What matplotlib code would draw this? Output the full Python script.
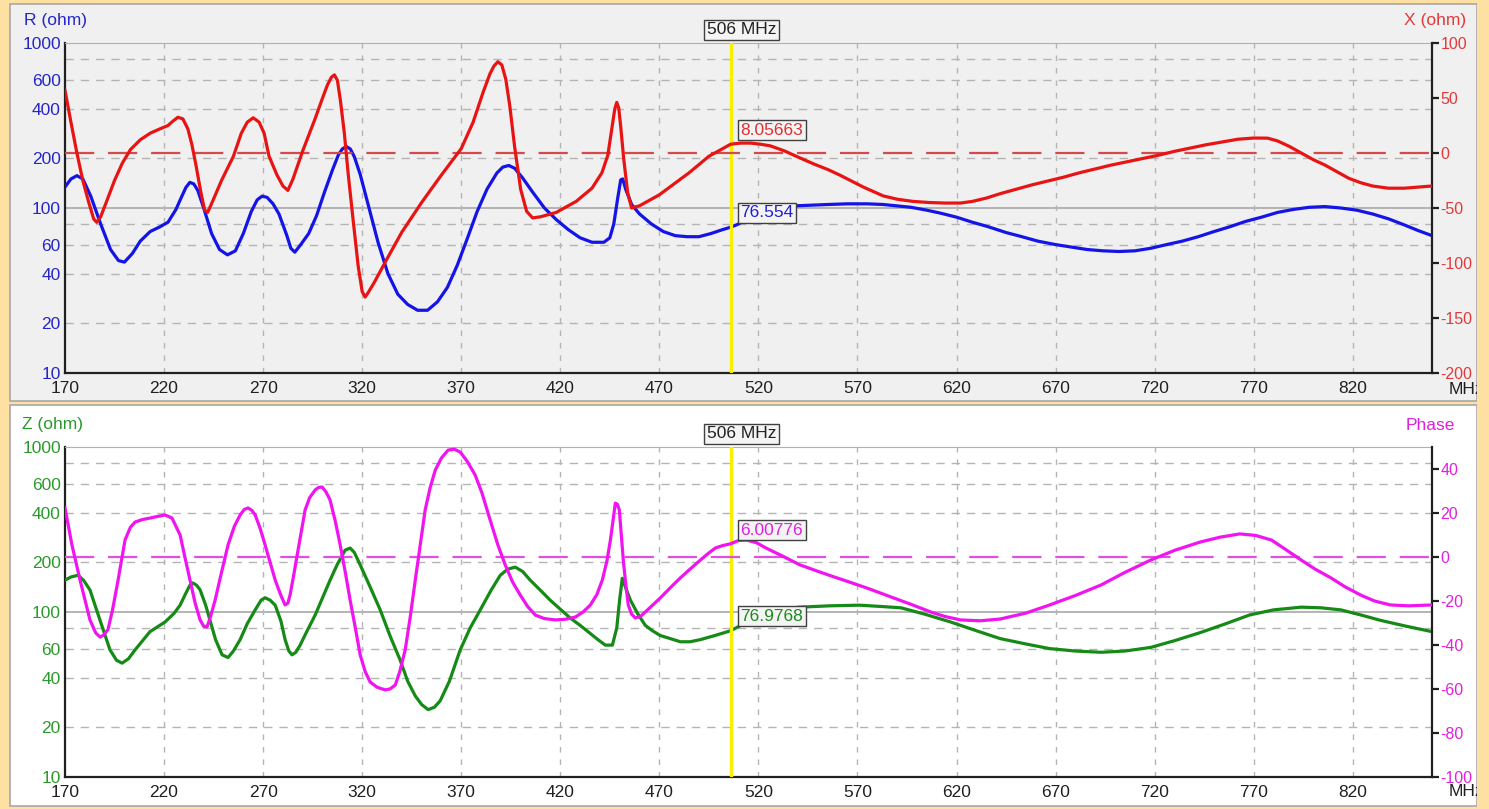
import matplotlib
matplotlib.use("Agg")
import matplotlib.pyplot as plt
from matplotlib.patches import Rectangle
from matplotlib.ticker import FixedLocator, NullLocator

plt.rcParams['font.family'] = ['Liberation Sans', 'DejaVu Sans']
plt.rcParams['lines.scale_dashes'] = False
plt.rcParams['axes.unicode_minus'] = False

# ---- data ----
cursor_mhz = 506
cursor_r, cursor_x = 76.554, 8.05663
cursor_z, cursor_phase = 76.9768, 6.00776

freq_ticks = [170, 220, 270, 320, 370, 420, 470, 520, 570, 620, 670, 720, 770, 820]
ohm_ticks = [10, 20, 40, 60, 100, 200, 400, 600, 1000]
ohm_grid = [20, 40, 60, 80, 200, 400, 600, 800]
x_ticks = [-200, -150, -100, -50, 0, 50, 100]
phase_ticks = [-100, -80, -60, -40, -20, 0, 20, 40]

# (MHz, R ohm), top panel
r_points = [
    (170, 134), (173, 150), (176, 157), (179, 150), (183, 118), (188, 80), (193, 56),
    (197, 48), (200, 47), (204, 53), (208, 63), (213, 72), (218, 77), (222, 82), (226, 98),
    (229, 118), (231, 133), (233, 143), (235, 140), (237, 128), (240, 100), (244, 70),
    (248, 56), (252, 52), (256, 55), (260, 70), (264, 95), (267, 112), (269.5, 118),
    (272, 116), (275, 106), (278, 92), (282, 68), (284, 57), (286, 54), (289, 60), (293, 70),
    (297, 90), (301, 125), (305, 170), (308, 210), (310, 228), (312, 236), (314, 228),
    (316, 205), (319, 160), (323, 105), (328, 62), (333, 40), (338, 30), (343, 26), (348, 24),
    (353, 24), (358, 27), (363, 33), (368, 45), (373, 65), (378, 95), (383, 130), (388, 163),
    (391, 177), (394, 181), (397, 174), (401, 152), (406, 125), (412, 100), (418, 85),
    (424, 74), (430, 66), (436, 62), (442, 62), (445, 66), (447, 80), (449, 115), (450.5, 148),
    (451.5, 150), (453, 130), (456, 105), (460, 92), (466, 80), (472, 72), (478, 68),
    (484, 67), (490, 67), (496, 70), (502, 74), (506, 76.5), (510, 80), (515, 88), (520, 95),
    (525, 99), (530, 101), (538, 103), (546, 104), (555, 105), (565, 106), (575, 106),
    (583, 105), (590, 103), (597, 101), (605, 97), (612, 93), (620, 88), (628, 82), (636, 77),
    (645, 71), (653, 67), (661, 63), (670, 60), (678, 58), (686, 56), (694, 55), (702, 54.5),
    (710, 55), (718, 57), (726, 60), (734, 63), (742, 67), (750, 72), (758, 77), (766, 83),
    (774, 88), (782, 94), (790, 98), (798, 101), (806, 102), (814, 100), (822, 97), (830, 92),
    (838, 86), (846, 79), (853, 73), (860, 68),
]

# (MHz, X ohm), top panel
x_points = [
    (170, 57), (173, 28), (176, 0), (179, -25), (182, -45), (184.5, -60), (186, -63),
    (188, -58), (191, -44), (195, -25), (199, -9), (203, 3), (208, 12), (213, 18), (218, 22),
    (222, 25), (224.5, 29), (227, 32.5), (229.5, 31), (232, 22), (234, 8), (236, -10),
    (238.5, -35), (240.5, -52), (242, -54), (244, -46), (249, -25), (255, -3), (259, 18),
    (262, 28), (265, 32), (268, 28), (270.5, 18), (273, -3), (277, -20), (280, -30),
    (282.5, -34), (285, -24), (290, 2), (296, 30), (300, 50), (302.5, 62), (304.5, 69),
    (306, 71), (307.5, 66), (309, 48), (311, 18), (313, -20), (315.5, -62), (318, -103),
    (320, -126), (321.5, -131), (323, -127), (326, -118), (332, -98), (340, -72), (350, -45),
    (360, -20), (370, 4), (376, 28), (381, 55), (384.5, 72), (386.5, 79), (388.5, 83),
    (390.5, 80), (392.5, 67), (394.5, 43), (397, 5), (400, -33), (403, -53), (406, -59),
    (410, -58), (418, -54), (428, -44), (436, -32), (441, -18), (444, -2), (446, 22),
    (447.5, 40), (448.5, 46), (449.5, 41), (450.5, 24), (452, -5), (454, -36), (456, -50),
    (460, -48), (470, -38), (485, -18), (495, -3), (501, 3), (506, 8), (511, 9), (516, 9),
    (521, 8), (526, 6.5), (533, 2), (541, -4.5), (548, -10), (555, -15), (561, -20),
    (567, -25.5), (573, -31), (578, -35), (583, -39), (590, -42), (598, -44), (606, -45),
    (614, -45.5), (622, -45.5), (628, -44), (635, -41), (642, -37), (650, -33), (658, -29),
    (666, -25.5), (674, -22), (682, -18), (690, -14.5), (698, -11), (706, -8), (714, -5),
    (722, -2), (730, 1.5), (738, 4.5), (746, 7.5), (754, 10), (762, 12.5), (770, 13.6),
    (777, 13.5), (782, 11), (788, 6), (794, 0), (800, -6), (806, -11), (812, -17),
    (818, -23), (824, -27), (830, -30), (838, -32), (846, -32), (853, -31), (860, -30),
]

# (MHz, |Z| ohm), bottom panel
z_points = [
    (170, 156), (173, 163), (176.6, 167), (179.5, 155), (182.6, 136), (187.7, 89),
    (192.7, 59), (196, 51), (198.8, 49), (202, 52), (205.4, 59), (212.9, 76), (220.5, 87),
    (225, 98), (228.1, 110), (231, 130), (233, 145), (234.5, 150), (236.5, 145),
    (238.2, 136), (241, 110), (243.2, 89), (246, 68), (249.3, 55), (252.3, 53), (255, 58),
    (258.4, 68), (262, 85), (266, 103), (269, 118), (271, 122), (273.5, 118), (276.1, 110),
    (279, 88), (281.1, 68), (283, 58), (284.6, 55), (286.5, 57), (288.7, 63), (292, 76),
    (296.3, 96), (300, 122), (303.8, 156), (307.5, 195), (311.4, 237), (313.9, 244),
    (316, 230), (319, 193), (324, 142), (329.1, 103), (334, 72), (339.2, 51), (343, 38),
    (346.8, 31), (350, 27.5), (353.3, 25.6), (356.5, 26.5), (359.4, 29), (364, 38),
    (369.5, 59), (374.5, 80), (379.6, 103), (385, 135), (389.7, 167), (393.5, 182),
    (397.3, 187), (401, 176), (404.8, 156), (409.8, 136), (414.9, 118), (420, 104),
    (425, 92), (430, 83), (435.2, 74), (439, 68), (442.7, 63), (446.3, 63), (448.5, 80),
    (450, 120), (451.3, 160), (453, 140), (455.4, 118), (459, 98), (462.9, 83), (466.5, 77),
    (470.5, 72), (475.5, 69), (480.6, 66), (485.5, 66), (490.7, 68), (498, 72), (506, 77),
    (512, 84), (520, 98), (530, 104), (541, 107), (556, 109), (571, 110), (582, 108),
    (592, 106), (604, 97), (617, 87), (630, 77), (642, 69), (655, 64), (667, 60), (680, 58),
    (693, 57), (705, 58), (718, 61), (730, 67), (743, 75), (756, 85), (768, 96), (780, 103),
    (794, 107), (804, 106), (814, 103), (824, 96), (834, 89), (847, 82), (860, 76),
]

# (MHz, phase deg), bottom panel
phase_points = [
    (170, 22.3), (173.5, 5.5), (177.6, -10.5), (182.6, -28.6), (185.5, -34.5), (187.7, -36.4),
    (189.5, -35.5), (191.7, -33), (194, -24), (196.8, -10.5), (200.3, 7.7), (203, 13.5),
    (205.4, 15.9), (209, 17), (212.9, 17.7), (216.5, 18.4), (220.5, 19.1), (224, 17.7),
    (228.1, 10), (230.5, 0), (233.1, -10.5), (235.7, -21), (238.2, -28.6), (240, -31.5),
    (241.7, -31.8), (243.5, -27), (245.8, -19.5), (249, -7), (252.3, 5.5), (255.5, 14),
    (258.4, 19.1), (260.5, 21.6), (262.4, 22.3), (264.3, 21.2), (266, 19.1), (268.5, 13),
    (271, 5.5), (276.1, -10.5), (279, -17.5), (281.1, -21.8), (282.5, -21), (283.6, -17.3),
    (285.5, -8), (287.2, 0.9), (289, 10), (291.2, 21.4), (293.5, 27), (296.3, 30.5),
    (298, 31.6), (299.8, 31.8), (301.8, 29.5), (303.8, 25.9), (306.5, 16), (308.9, 5.5),
    (311.5, -7), (313.9, -19.5), (316.5, -32), (319, -44.5), (321.5, -52), (324, -56.8),
    (327.5, -59.2), (331.6, -60.4), (334, -60), (336.7, -58.2), (339, -52), (341.7, -42.3),
    (344.3, -27), (346.8, -10.5), (349.3, 5.5), (351.8, 21.4), (354.3, 31.5), (356.9, 39.5),
    (360, 45), (363.4, 48.6), (366.5, 49), (369.5, 47.7), (373, 43.5), (377, 37.3),
    (380.5, 29), (384.6, 16.8), (388.5, 5.5), (392.2, -3.6), (396, -11.5), (399.8, -17.3),
    (403.5, -22.5), (407.4, -26.4), (412, -28), (417.5, -28.6), (422.5, -28.3), (427.6, -27.3),
    (431.5, -25), (435.2, -21.8), (438.5, -17), (441.2, -10.5), (443.5, -2), (445.3, 7.7),
    (446.8, 18), (447.8, 24.5), (448.8, 24), (449.8, 21.4), (450.8, 10), (451.8, -1.4),
    (453, -12), (454.3, -21.8), (456, -26), (457.9, -27.7), (460.5, -27), (462.9, -25),
    (466.5, -22), (470.5, -18.6), (475.5, -14), (480.6, -9.5), (485.5, -5.5), (490.7, -1.4),
    (494.5, 1.5), (498.3, 4.1), (502, 5.2), (506, 6.0), (510, 7.5), (514, 7.7), (519, 6.5),
    (524, 4), (532, 0.5), (541, -3.6), (550, -6.5), (558, -9), (566, -11.4), (576, -14.5),
    (587, -18.2), (597, -21.5), (607, -25), (614, -27), (622, -28.6), (632, -29),
    (642, -28.2), (655, -25.5), (667, -21.8), (680, -17.5), (693, -12.7), (705, -7),
    (718, -1.4), (730, 3), (743, 6.8), (753, 9), (763, 10.5), (771, 9.8), (779, 7.7),
    (786, 3.5), (794, -1.4), (801, -5.5), (809, -9.5), (816, -13.5), (824, -17.3),
    (831, -20), (839, -21.8), (848, -22.2), (860, -21.8),
]

W, H = 1489, 809
fig = plt.figure(figsize=(W / 100, H / 100), dpi=100, facecolor='#FFE0A3')


def fpos(x, y):
    return x / W, 1 - y / H


def panel(x0, y0, x1, y1, color):
    r = Rectangle(fpos(x0, y1), (x1 - x0) / W, (y1 - y0) / H, transform=fig.transFigure,
                  facecolor=color, edgecolor='#A8A8A8', lw=1.2, zorder=-5)
    fig.add_artist(r)


panel(10, 4, 1477, 401, '#F0F0F0')
panel(10, 405, 1477, 806, '#FFFFFF')


def make_axes(top, bottom, bg):
    ax = fig.add_axes([65 / W, 1 - bottom / H, (1432 - 65) / W, (bottom - top) / H])
    ax.set_facecolor(bg)
    ax.set_xlim(170, 860)
    ax.set_yscale('log')
    ax.set_ylim(10, 1000)
    ax.xaxis.set_major_locator(FixedLocator(freq_ticks))
    ax.xaxis.set_minor_locator(NullLocator())
    ax.yaxis.set_major_locator(FixedLocator(ohm_ticks))
    ax.yaxis.set_minor_locator(NullLocator())
    ax.set_yticklabels([str(t) for t in ohm_ticks])
    ax.tick_params(axis='x', length=0, pad=6, labelsize=12.5, labelcolor='#202020')
    ax.tick_params(axis='y', length=0, pad=3, labelsize=12.5)
    for v in ohm_grid:
        ax.axhline(v, color='#B4B4B4', lw=1, ls=(0, (6, 5)), zorder=0.5)
    ax.axhline(100, color='#A8A8A8', lw=1.2, zorder=0.5)
    for f in freq_ticks[1:]:
        ax.axvline(f, color='#B4B4B4', lw=1, ls=(0, (4, 5)), zorder=0.5)
    for s in ['left', 'bottom']:
        ax.spines[s].set_color('#202020')
        ax.spines[s].set_linewidth(1.6)
    ax.spines['top'].set_color('#B0B0B0')
    ax.spines['right'].set_visible(False)
    tw = ax.twinx()
    tw.spines['right'].set_color('#202020')
    tw.spines['right'].set_linewidth(1.6)
    for s in ['left', 'top', 'bottom']:
        tw.spines[s].set_visible(False)
    tw.tick_params(axis='y', length=5, width=1.6, color='#202020', pad=1, labelsize=11.5)
    return ax, tw


def cursor_marks(ax, tw, left_val, left_color, right_val, right_color):
    ax.axvline(cursor_mhz, color='#F8F000', lw=2.4, zorder=4)
    box = dict(boxstyle='square,pad=0.15', fc='#F4F4F4', ec='#404040', lw=1)
    ax.annotate(f'{cursor_mhz} MHz', xy=(cursor_mhz, 1), xycoords=ax.get_xaxis_transform(),
                xytext=(8, 9.5), textcoords='offset points', ha='center', va='center',
                fontsize=12.5, color='#202020', annotation_clip=False, bbox=box)
    tw.annotate(f'{right_val:g}', xy=(cursor_mhz, right_val), xytext=(7, 4.5),
                textcoords='offset points', ha='left', va='bottom', fontsize=12.5,
                color=right_color, bbox=box, zorder=6)
    ax.annotate(f'{left_val:g}', xy=(cursor_mhz, left_val), xytext=(7, 5),
                textcoords='offset points', ha='left', va='bottom', fontsize=12.5,
                color=left_color, bbox=box, zorder=6)


def xy(points):
    return [p[0] for p in points], [p[1] for p in points]


# ---- top: R and X ----
ax1, ax1b = make_axes(43, 373, '#F0F0F0')
ax1.tick_params(axis='y', labelcolor='#2626C8')
ax1b.set_ylim(-200, 100)
ax1b.yaxis.set_major_locator(FixedLocator(x_ticks))
ax1b.tick_params(axis='y', labelcolor='#E23A3A')
ax1b.axhline(0, color='#D24A4A', lw=1.6, ls=(0, (21, 10)), zorder=1)
ax1.plot(*xy(r_points), color='#1414E6', lw=2.3, zorder=3)
ax1b.plot(*xy(x_points), color='#E81414', lw=2.3, zorder=3)
cursor_marks(ax1, ax1b, cursor_r, '#2020D0', cursor_x, '#E03030')

# ---- bottom: |Z| and phase ----
ax2, ax2b = make_axes(447, 777, '#FFFFFF')
ax2.tick_params(axis='y', labelcolor='#2A9A2A')
ax2b.set_ylim(-100, 50)
ax2b.yaxis.set_major_locator(FixedLocator(phase_ticks))
ax2b.tick_params(axis='y', labelcolor='#E020E0')
ax2b.axhline(0, color='#E050E0', lw=1.6, ls=(0, (21, 10)), zorder=1)
ax2.plot(*xy(z_points), color='#168A16', lw=2.3, zorder=3)
ax2b.plot(*xy(phase_points), color='#F014F0', lw=2.3, zorder=3)
cursor_marks(ax2, ax2b, cursor_z, '#1E8A1E', cursor_phase, '#E020E0')

# axis titles and unit labels
fig.text(*fpos(24, 20), 'R (ohm)', color='#2626C8', fontsize=12.5, va='center')
fig.text(*fpos(1466, 20), 'X (ohm)', color='#E23A3A', fontsize=12.5, va='center', ha='right')
fig.text(*fpos(22, 424), 'Z (ohm)', color='#2A9A2A', fontsize=12.5, va='center')
fig.text(*fpos(1455, 425), 'Phase', color='#E020E0', fontsize=12.5, va='center', ha='right')
fig.text(*fpos(1449, 389), 'MHz', color='#202020', fontsize=12.5, va='center', zorder=2)
fig.text(*fpos(1449, 791), 'MHz', color='#202020', fontsize=12.5, va='center', zorder=2)
fig.add_artist(Rectangle(fpos(1477, 809), 12 / W, 1, transform=fig.transFigure,
                         facecolor='#FFE0A3', edgecolor='none', zorder=10))

fig.savefig('out.png', dpi=100, facecolor=fig.get_facecolor())
